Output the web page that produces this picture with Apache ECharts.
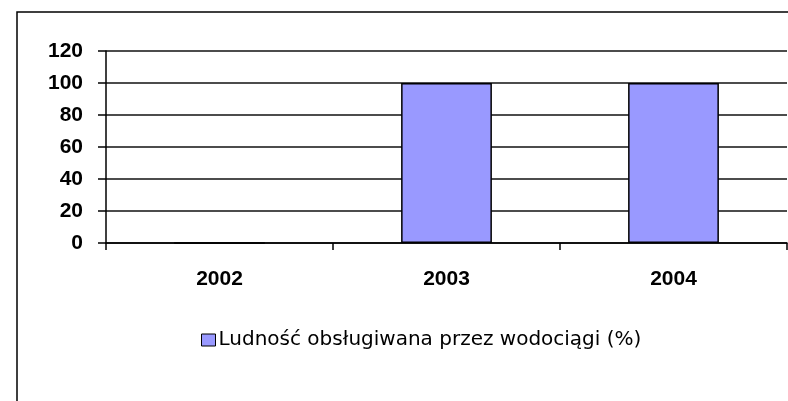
<!DOCTYPE html>
<html>
<head>
<meta charset="utf-8">
<script src="https://cdn.jsdelivr.net/npm/echarts@6/dist/echarts.min.js"></script>
<style>
  html, body { margin: 0; padding: 0; background: #fff; }
  #chart { width: 788px; height: 401px; }
</style>
</head>
<body>
<div id="chart"></div>
<script>
const years = ["2002", "2003", "2004"];
const served = [0, 100, 100];
const seriesName = "Ludność obsługiwana przez wodociągi (%)";

const chart = echarts.init(document.getElementById("chart"));
chart.setOption({
  animation: false,
  backgroundColor: "#fff",
  graphic: [
    {
      type: "rect",
      shape: { x: 17, y: 12, width: 820, height: 420 },
      style: { fill: "none", stroke: "#000", lineWidth: 1.5 },
      z: 0,
    },
  ],
  legend: {
    left: 196,
    top: 325,
    itemWidth: 14,
    itemHeight: 12,
    icon: "rect",
    textStyle: { color: "#000", fontSize: 20, fontFamily: "DejaVu Sans", padding: [0, 0, 0, -2] },
    itemStyle: { borderColor: "#000", borderWidth: 1 },
    data: [seriesName],
  },
  grid: { left: 106, right: 1, top: 51, bottom: 158, containLabel: false },
  xAxis: {
    type: "category",
    data: years,
    axisLine: { lineStyle: { color: "#000", width: 1.5 } },
    axisTick: { show: true, length: 7, lineStyle: { color: "#000", width: 1.5 } },
    axisLabel: { color: "#000", fontSize: 21, fontWeight: "bold", fontFamily: "Liberation Sans", margin: 26 },
  },
  yAxis: {
    type: "value",
    min: 0,
    max: 120,
    interval: 20,
    axisLine: { show: true, lineStyle: { color: "#000", width: 1.5 } },
    axisTick: { show: true, length: 8, lineStyle: { color: "#000", width: 1.5 } },
    axisLabel: { color: "#000", fontSize: 21, fontWeight: "bold", fontFamily: "Liberation Sans", margin: 23 },
    splitLine: { show: true, lineStyle: { color: "#111", width: 1.5 } },
  },
  series: [
    {
      name: seriesName,
      type: "bar",
      barWidth: "40%",
      data: served,
      itemStyle: { color: "#9999ff", borderColor: "#000", borderWidth: 1.5 },
    },
  ],
});
</script>
</body>
</html>
